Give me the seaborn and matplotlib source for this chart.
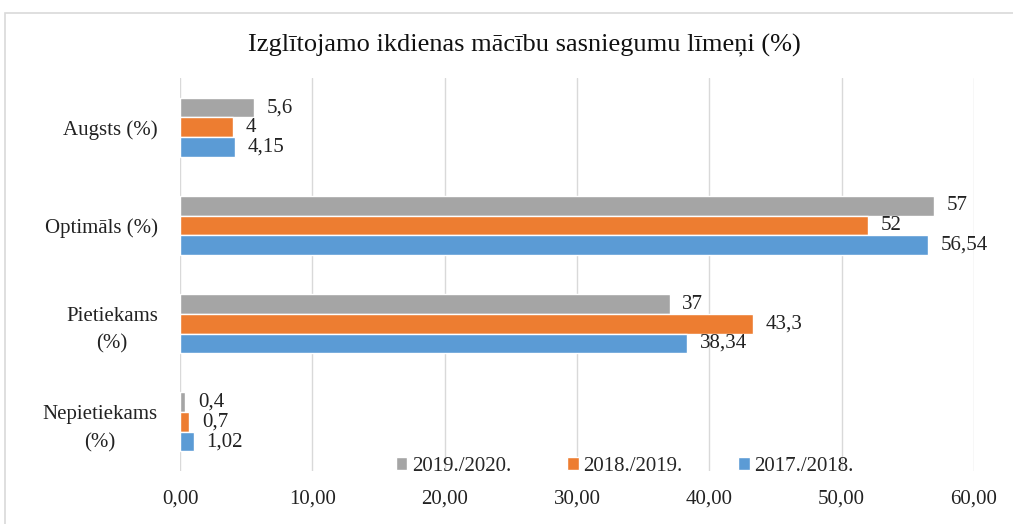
import matplotlib
matplotlib.use("Agg")
import matplotlib.pyplot as plt
import matplotlib.patches as patches
from matplotlib.ticker import FuncFormatter
import seaborn as sns
import pandas as pd

categories = ["Augsts (%)", "Optimāls (%)", "Pietiekams\n(%)", "Nepietiekams\n(%)"]
years = ["2019./2020.", "2018./2019.", "2017./2018."]
vals_2019 = [5.6, 57, 37, 0.4]
vals_2018 = [4, 52, 43.3, 0.7]
vals_2017 = [4.15, 56.54, 38.34, 1.02]
labels_2019 = ["5,6", "57", "37", "0,4"]
labels_2018 = ["4", "52", "43,3", "0,7"]
labels_2017 = ["4,15", "56,54", "38,34", "1,02"]

colors = ["#A5A5A5", "#ED7D31", "#5B9BD5"]

rows = []
for year, vals in zip(years, [vals_2019, vals_2018, vals_2017]):
    for cat, v in zip(categories, vals):
        rows.append({"cat": cat, "year": year, "val": v})
df = pd.DataFrame(rows)

sns.set_style("white")
plt.rcParams["font.family"] = ["Liberation Serif", "DejaVu Serif"]

fig = plt.figure(figsize=(10.13, 5.24), dpi=100)
ax = fig.add_axes([0.1777, 0.101, 0.7838, 0.75])

sns.barplot(data=df, y="cat", x="val", hue="year", hue_order=years, order=categories,
            palette=colors, orient="h", width=0.6, saturation=1, ax=ax, legend=True)

for cont, labs in zip(ax.containers, [labels_2019, labels_2018, labels_2017]):
    ax.bar_label(cont, labels=labs, padding=9, fontsize=15, color="#222222")

ax.set_xlim(0, 60)
ax.set_ylim(3.5, -0.5)
ax.set_xticks(range(0, 61, 10))
ax.xaxis.set_major_formatter(FuncFormatter(lambda v, p: f"{v:.2f}".replace(".", ",")))
ax.grid(axis="x", color="#d9d9d9", lw=1)
ax.set_axisbelow(True)
for s in ax.spines.values():
    s.set_visible(False)
ax.tick_params(length=0, labelsize=15, colors="#222222")
ax.tick_params(axis="x", pad=13)
ax.tick_params(axis="y", pad=16)
for t in ax.get_yticklabels():
    t.set_multialignment("center")
    t.set_linespacing(1.6)
ax.set_xlabel("")
ax.set_ylabel("")

ax.legend(loc="lower center", bbox_to_anchor=(0.56, -0.06), ncol=3, frameon=False,
          fontsize=15, handlelength=0.55, handleheight=0.55, handletextpad=0.2,
          columnspacing=2.7)

fig.text(0.518, 0.914, "Izglītojamo ikdienas mācību sasniegumu līmeņi (%)",
         ha="center", va="center", fontsize=19, color="#111111")

fig.patches.append(patches.Rectangle((0.005, -0.01), 1.1, 0.985, transform=fig.transFigure,
                                     fill=False, edgecolor="#d9d9d9", lw=1.2))

fig.savefig("out.png", dpi=100)
